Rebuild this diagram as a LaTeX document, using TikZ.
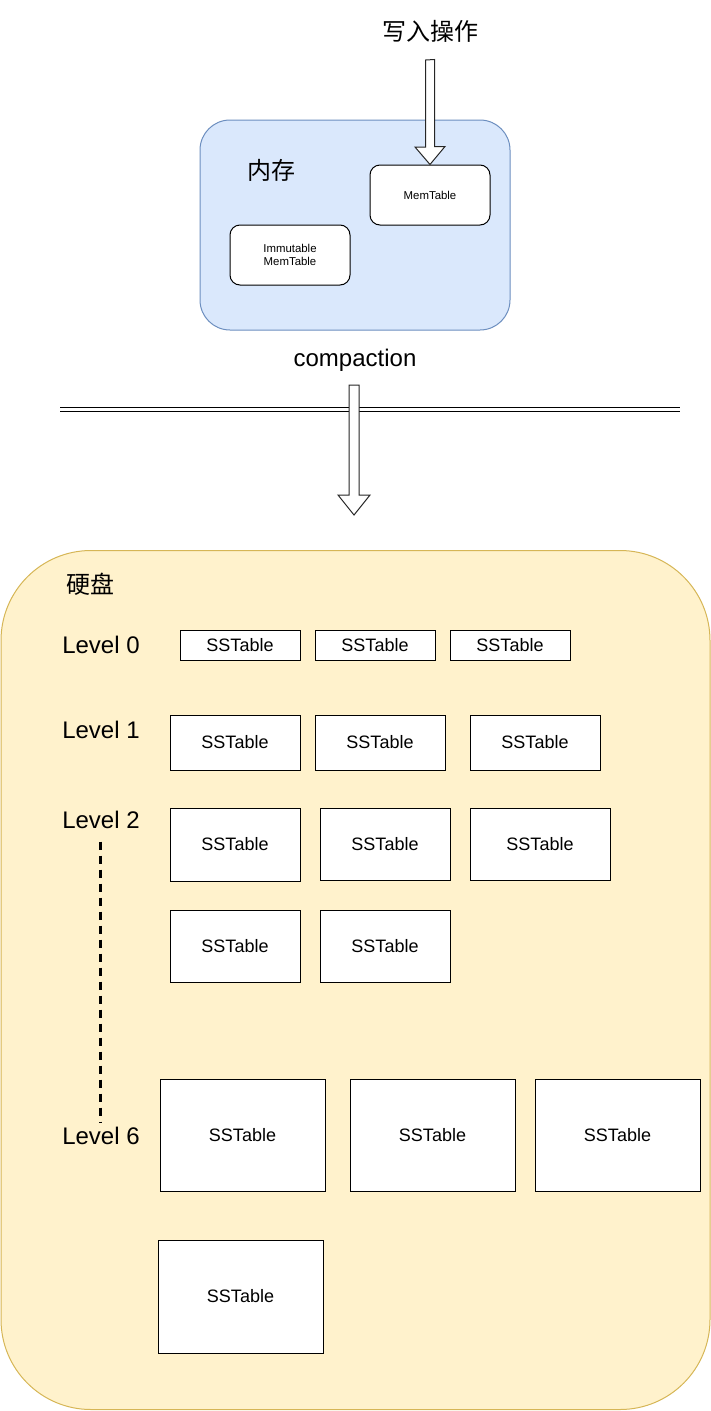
\documentclass[tikz,border=0pt]{standalone}
\usepackage{fontspec}
\setmainfont{Liberation Sans}
\newfontfamily\cjk{Noto Sans CJK SC}
\usetikzlibrary{calc}
\definecolor{memfill}{HTML}{DAE8FC}
\definecolor{memline}{HTML}{6C8EBF}
\definecolor{diskfill}{HTML}{FFF2CC}
\definecolor{diskline}{HTML}{D6B656}
\begin{document}
\begin{tikzpicture}[x=1pt,y=-1pt,line width=1pt,
	big/.style={font=\fontsize{24}{28}\selectfont},
	sst/.style={draw,fill=white,font=\fontsize{18}{21}\selectfont,inner sep=0pt},
	mt/.style={draw,fill=white,rounded corners=10pt,minimum width=120pt,minimum height=60pt,
		align=center,font=\fontsize{11.4}{13.5}\selectfont,inner sep=0pt},
	hollow/.style={draw=black!85,fill=white,line width=1pt,line join=miter}]
	\useasboundingbox (0,0) rectangle (711,1411);
	% memory part
	\node[draw=memline,fill=memfill,rounded corners=30pt,minimum width=310pt,minimum height=210pt] (mem) at (355,225) {};
	\node[big] (w) at (430,31) {\cjk 写入操作};
	\node[big] (memlab) at (271,170) {\cjk 内存};
	\node[mt] (mt) at (430,195) {MemTable};
	\node[mt] (imt) at (290,255) {Immutable\\MemTable};
	\coordinate (w1) at (430,60);
	\draw[hollow] (w1) ++(-4.5,0) -- ++(0,87) -- ++(-10.5,0) -- (mt.north) -- ++(15,-18) -- ++(-10.5,0) -- ++(0,-87) -- cycle;
	% separator
	\node[big] (comp) at (355,360) {compaction};
	\coordinate (sepl) at (60,409);
	\coordinate (sepr) at (680,409);
	\draw[double distance=3pt] (sepl) -- (sepr);
	\coordinate (c2) at (354,385);
	\coordinate (ctip) at (354,515);
	\draw[hollow] (c2) ++(-5,0) -- ++(0,110) -- ++(-11,0) -- (ctip) -- ++(16,-20) -- ++(-11,0) -- ++(0,-110) -- cycle;
	% disk part
	\node[draw=diskline,fill=diskfill,rounded corners=90pt,minimum width=709pt,minimum height=859pt] (disk) at (355.5,980) {};
	\node[big] (disklab) at (90,584) {\cjk 硬盘};
	\node[big] (l0) at (101,645) {Level 0};
	\node[big] (l1) at (101,730) {Level 1};
	\node[big] (l2) at (101,820) {Level 2};
	\node[big] (l6) at (101,1136) {Level 6};
	\draw[line width=3pt,dash pattern=on 8pt off 6pt,shorten <=9pt,shorten >=1pt] ([xshift=-1pt]l2.south) -- ([xshift=-1pt]l6.north);
	% level 0
	\node[sst,minimum width=120pt,minimum height=30pt] (s01) at (240,645) {SSTable};
	\node[sst,minimum width=120pt,minimum height=30pt] (s02) at (375,645) {SSTable};
	\node[sst,minimum width=120pt,minimum height=30pt] (s03) at (510,645) {SSTable};
	% level 1
	\node[sst,minimum width=130pt,minimum height=55pt] (s11) at (235,742.5) {SSTable};
	\node[sst,minimum width=130pt,minimum height=55pt] (s12) at (380,742.5) {SSTable};
	\node[sst,minimum width=130pt,minimum height=55pt] (s13) at (535,742.5) {SSTable};
	% level 2
	\node[sst,minimum width=130pt,minimum height=73pt] (s21) at (235,844.5) {SSTable};
	\node[sst,minimum width=130pt,minimum height=72pt] (s22) at (385,844) {SSTable};
	\node[sst,minimum width=140pt,minimum height=72pt] (s23) at (540,844) {SSTable};
	\node[sst,minimum width=130pt,minimum height=72pt] (s24) at (235,946) {SSTable};
	\node[sst,minimum width=130pt,minimum height=72pt] (s25) at (385,946) {SSTable};
	% level 6
	\node[sst,minimum width=165pt,minimum height=112pt] (s61) at (242.5,1135) {SSTable};
	\node[sst,minimum width=165pt,minimum height=112pt] (s62) at (432.5,1135) {SSTable};
	\node[sst,minimum width=165pt,minimum height=112pt] (s63) at (617.5,1135) {SSTable};
	\node[sst,minimum width=165pt,minimum height=113pt] (s64) at (240.5,1296.5) {SSTable};
\end{tikzpicture}
\end{document}
